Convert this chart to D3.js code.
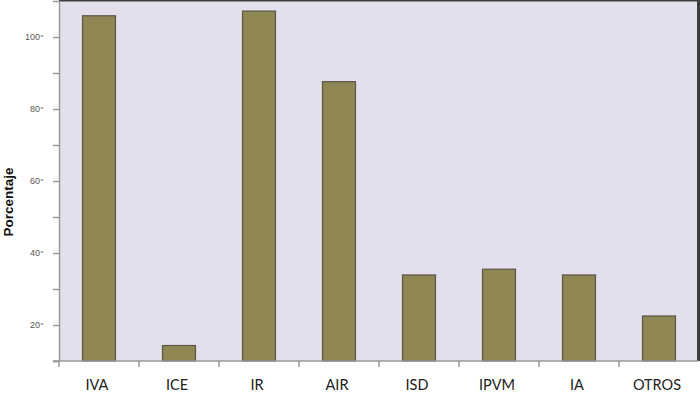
<!DOCTYPE html>
<html><head><meta charset="utf-8">
<script src="https://cdn.jsdelivr.net/npm/d3@7"></script>
<style>body{margin:0;background:#fff}svg{display:block}</style>
</head><body>
<svg id="c" width="700" height="397"></svg>
<script>
const categories = ["IVA","ICE","IR","AIR","ISD","IPVM","IA","OTROS"];
const values = [105.9, 14.3, 107.2, 87.6, 33.9, 35.5, 33.9, 22.5];
const yTicks = [10,20,30,40,50,60,70,80,90,100];
const yLabelTicks = [20,40,60,80,100];
const yTitle = "Porcentaje";

(function(){
const svg = d3.select("#c");
const pL = 59, pR = 697, pT = 1, pB = 361;
const x = d3.scaleBand().domain(categories).range([58, 698]).paddingInner(0).paddingOuter(0);
const y = d3.scaleLinear().domain([10, 110]).range([361, 1]);

svg.append("rect").attr("x", pL).attr("y", pT).attr("width", pR-pL).attr("height", pB-pT).attr("fill", "#e4dfec");
svg.append("line").attr("x1", pL).attr("x2", 700).attr("y1", 0.5).attr("y2", 0.5).attr("stroke", "#3d3d3d").attr("stroke-width", 2);
svg.append("line").attr("x1", 698.5).attr("x2", 698.5).attr("y1", 0).attr("y2", pB).attr("stroke", "#3d3d3d").attr("stroke-width", 3);

const bw = 33;
svg.selectAll("rect.bar").data(categories).join("rect").attr("class","bar")
  .attr("x", d => x(d) + x.bandwidth()/2 - bw/2 + 1)
  .attr("width", bw)
  .attr("y", (d,i) => y(values[i]))
  .attr("height", (d,i) => y(10) - y(values[i]))
  .attr("fill", "#8f8753").attr("stroke", "#5a5648").attr("stroke-width", 1.2);

const ya = svg.append("g").attr("transform", `translate(${pL},0)`)
  .call(d3.axisLeft(y).tickValues(yTicks).tickSize(6).tickFormat(""));
ya.select(".domain").attr("stroke", "#9a9a9a").attr("stroke-width", 1.5);
ya.selectAll(".tick line").attr("stroke", "#9a9a9a").attr("stroke-width", 1.5);
const yl = svg.append("g");
yl.selectAll("text").data(yLabelTicks).join("text")
  .attr("x", 40).attr("y", d => y(d) + 3)
  .attr("text-anchor", "end").attr("font-family", "Liberation Sans, Arial, sans-serif")
  .attr("font-size", 9).attr("fill", "#555").text(d => d);
yl.selectAll("line").data(yLabelTicks).join("line")
  .attr("x1", 40.5).attr("x2", 43.5).attr("y1", d => y(d) - 1).attr("y2", d => y(d) - 1)
  .attr("stroke", "#666").attr("stroke-width", 1);

svg.append("line").attr("x1", 53).attr("x2", 698).attr("y1", pB).attr("y2", pB).attr("stroke", "#9a9a9a").attr("stroke-width", 1.5);
const bounds = categories.map(d => x(d));
svg.selectAll("line.xt").data(bounds).join("line").attr("class","xt")
  .attr("x1", d => d + 1).attr("x2", d => d + 1).attr("y1", pB).attr("y2", pB + 6)
  .attr("stroke", "#9a9a9a").attr("stroke-width", 1.5);
svg.selectAll("text.xl").data(categories).join("text").attr("class","xl")
  .attr("x", d => x(d) + x.bandwidth()/2 - 1).attr("y", 390)
  .attr("text-anchor", "middle").attr("font-family", "Lato, Open Sans, sans-serif")
  .attr("font-size", 14.5).attr("fill", "#222").text(d => d);

svg.append("text").attr("transform", "translate(13,202) rotate(-90)")
  .attr("text-anchor", "middle").attr("font-family", "Liberation Sans, Arial, sans-serif")
  .attr("font-weight", "bold").attr("font-size", 13.5).attr("fill", "#111").text(yTitle);
})();
</script>
</body></html>
